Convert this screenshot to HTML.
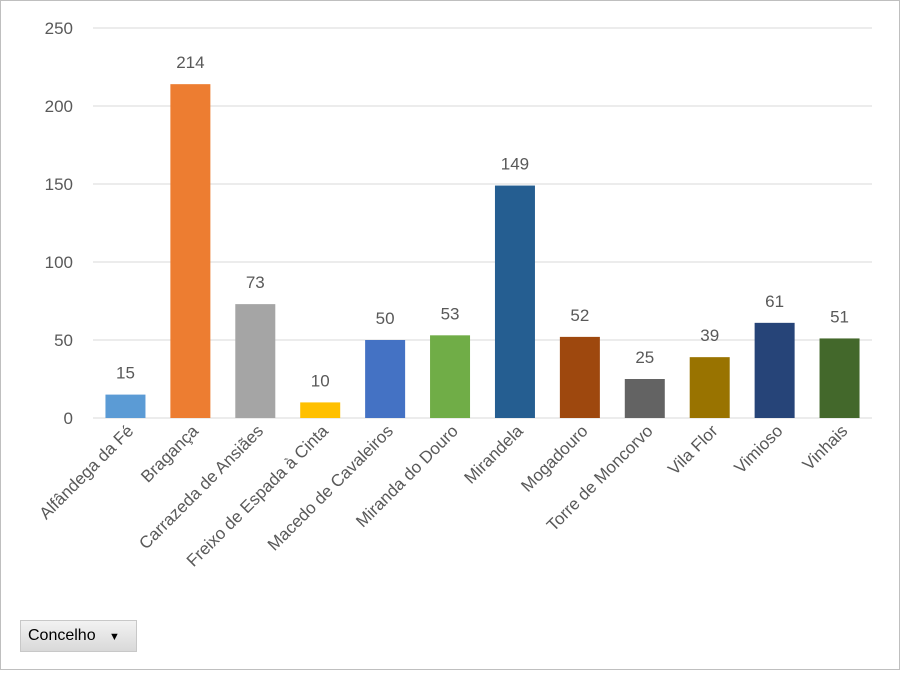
<!DOCTYPE html>
<html><head><meta charset="utf-8"><style>
body{margin:0;background:#fff;font-family:"Liberation Sans",sans-serif}
#wrap{position:relative;width:898px;height:668px;border:1px solid #bfbfbf;background:#fff}
svg text{font-family:"Liberation Sans",sans-serif;fill:#595959}
#btn{position:absolute;left:19px;top:619px;width:117px;height:32px;background:linear-gradient(#f2f2f2,#d9d9d9);border:1px solid #c8c8c8;box-sizing:border-box;font-size:16px;color:#000;line-height:30px;padding-left:7px}
</style></head><body>
<div id="wrap">
<svg id="chart" width="898" height="668"></svg>
<div id="btn">Concelho &nbsp;&nbsp;<span style="font-size:11px">▼</span></div>
</div>
<script>
const categories=["Alfândega da Fé","Bragança","Carrazeda de Ansiães","Freixo de Espada à Cinta","Macedo de Cavaleiros","Miranda do Douro","Mirandela","Mogadouro","Torre de Moncorvo","Vila Flor","Vimioso","Vinhais"];
const values=[15,214,73,10,50,53,149,52,25,39,61,51];
const colors=["#5B9BD5","#ED7D31","#A5A5A5","#FFC000","#4472C4","#70AD47","#255E91","#9E480E","#636363","#997300","#264478","#43682B"];
const yTicks=[0,50,100,150,200,250];
const NS="http://www.w3.org/2000/svg";
const svg=document.getElementById('chart');
const left=92,right=871,y0=417,yTop=27,yMax=250;
const band=(right-left)/categories.length,bw=40;
function y(v){return y0-(y0-yTop)*v/yMax;}
function xc(i){return left+band*(i+0.5);}
function mk(t,a){const e=document.createElementNS(NS,t);for(const k in a)e.setAttribute(k,a[k]);svg.appendChild(e);return e;}
yTicks.forEach(t=>{
 const l=mk('line',{x1:left,x2:right,y1:y(t),y2:y(t),stroke:'#d9d9d9','stroke-width':1});
 
 
 const tx=mk('text',{x:72,y:y(t)+6,'text-anchor':'end','font-size':17});
 tx.textContent=t;
 
 
});
categories.forEach((c,i)=>{
 const r=mk('rect',{x:xc(i)-bw/2,y:y(values[i]),width:bw,height:y0-y(values[i]),fill:colors[i]});
 
 
 const v=mk('text',{x:xc(i),y:y(values[i])-16,'text-anchor':'middle','font-size':17});
 v.textContent=values[i];
 
 
 const lx=xc(i)+9,ly=y0+14;
 const t=mk('text',{x:lx,y:ly,'text-anchor':'end','font-size':17,transform:`rotate(-45 ${lx} ${ly})`});
 t.textContent=c;
 
 
});
</script>
</body></html>
